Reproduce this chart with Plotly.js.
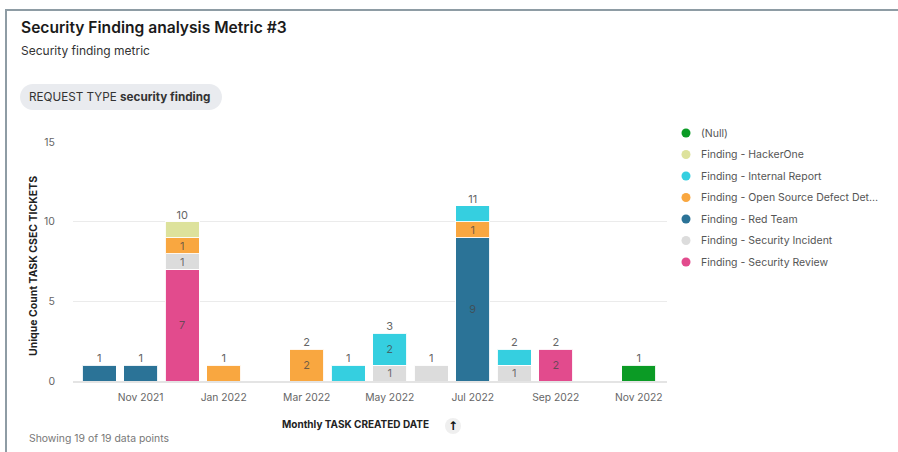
<!DOCTYPE html>
<html>
<head>
<meta charset="utf-8">
<script src="https://cdn.plot.ly/plotly-3.0.1.min.js"></script>
<style>
  html, body { margin: 0; padding: 0; background: #fff; overflow: hidden; }
  #chart { width: 898px; height: 452px; }
</style>
</head>
<body>
<div id="chart"></div>
<script>
// ---- Data ----
const months = ['Oct 2021','Nov 2021','Dec 2021','Jan 2022','Feb 2022','Mar 2022','Apr 2022',
                'May 2022','Jun 2022','Jul 2022','Aug 2022','Sep 2022','Oct 2022','Nov 2022'];
const tickLabels = ['Nov 2021','Jan 2022','Mar 2022','May 2022','Jul 2022','Sep 2022','Nov 2022'];

// stacked bottom -> top
const securityReview   = [null,null,7,null,null,null,null,null,null,null,null,2,null,null];
const securityIncident = [null,null,1,null,null,null,null,1,1,null,1,null,null,null];
const redTeam          = [1,1,null,null,null,null,null,null,null,9,null,null,null,null];
const openSource       = [null,null,1,1,null,2,null,null,null,1,null,null,null,null];
const internalReport   = [null,null,null,null,null,null,1,2,null,1,1,null,null,null];
const hackerOne        = [null,null,1,null,null,null,null,null,null,null,null,null,null,null];
const nullFinding      = [null,null,null,null,null,null,null,null,null,null,null,null,null,1];

const seriesNames = ['Finding - Security Review','Finding - Security Incident','Finding - Red Team',
  'Finding - Open Source Defect Det\u2026','Finding - Internal Report','Finding - HackerOne','(Null)'];
const seriesValues = [securityReview, securityIncident, redTeam, openSource, internalReport, hackerOne, nullFinding];
const seriesColors = ['#e24b8d','#dcdcdc','#2b7397','#f9a740','#35cfe0','#dde29c','#0b9b25'];

// ---- Geometry helpers (pixel -> paper) ----
const W = 898, H = 452;
const M = {l: 73, r: 231, t: 142, b: 71};
const PW = W - M.l - M.r, PH = H - M.t - M.b;
const px = x => (x - M.l) / PW;
const py = y => (H - M.b - y) / PH;

// totals and top-segment detection
const totals = months.map((_, i) => {
  let s = 0, any = false;
  seriesValues.forEach(a => { if (a[i] != null) { s += a[i]; any = true; } });
  return any ? s : null;
});
const topIndex = months.map((_, i) => {
  let t = -1;
  seriesValues.forEach((a, k) => { if (a[i] != null) t = k; });
  return t;
});

const F = 'Inter, "Noto Sans", sans-serif';
const traces = [];
seriesValues.forEach((vals, k) => {
  traces.push({
    type: 'bar', x: months, y: vals, name: seriesNames[k], showlegend: false,
    marker: {color: seriesColors[k], line: {color: 'rgba(255,255,255,0.9)', width: 1}},
    text: vals.map((v, i) => (v == null || (v === 1 && topIndex[i] === k)) ? '' : String(v)),
    textposition: 'inside', insidetextanchor: 'middle', constraintext: 'none', textangle: 0,
    textfont: {family: F, size: 11, color: 'rgba(70,70,70,0.75)'},
    hoverinfo: 'x+y+name', cliponaxis: false
  });
});
traces.push({
  type: 'scatter', mode: 'text', x: months, y: totals, text: totals.map(t => t == null ? '' : String(t)),
  textposition: 'top center', showlegend: false, hoverinfo: 'skip', cliponaxis: false,
  textfont: {family: F, size: 11, color: '#666'}
});

function pill(x0, y0, x1, y1) {
  const r = (y1 - y0) / 2, k = 0.5523 * r, ym = (y0 + y1) / 2;
  const P = (x, y) => px(x).toFixed(5) + ',' + py(y).toFixed(5);
  return 'M' + P(x0 + r, y0) + ' L' + P(x1 - r, y0) +
    ' C' + P(x1 - r + k, y0) + ' ' + P(x1, ym - k) + ' ' + P(x1, ym) +
    ' C' + P(x1, ym + k) + ' ' + P(x1 - r + k, y1) + ' ' + P(x1 - r, y1) +
    ' L' + P(x0 + r, y1) +
    ' C' + P(x0 + r - k, y1) + ' ' + P(x0, ym + k) + ' ' + P(x0, ym) +
    ' C' + P(x0, ym - k) + ' ' + P(x0 + r - k, y0) + ' ' + P(x0 + r, y0) + ' Z';
}

const shapes = [
  {type: 'line', xref: 'paper', yref: 'paper', x0: px(5), x1: px(898), y0: py(10), y1: py(10),
   line: {color: '#8e9ca4', width: 2}},
  {type: 'line', xref: 'paper', yref: 'paper', x0: px(6), x1: px(6), y0: py(9), y1: py(452),
   line: {color: '#8e9ca4', width: 2}},
  {type: 'path', xref: 'paper', yref: 'paper', path: pill(20, 84, 222, 110),
   fillcolor: '#e9ebef', line: {width: 0}},
  {type: 'circle', xref: 'paper', yref: 'paper', x0: px(445), x1: px(461), y0: py(418), y1: py(434),
   fillcolor: '#efefef', line: {width: 0}}
];
const annotations = [
  {xref: 'paper', yref: 'paper', x: px(19), y: py(27), xanchor: 'left', yanchor: 'middle', showarrow: false,
   text: 'Security Finding analysis Metric #3', font: {family: F, size: 15.6, color: '#1a1a1a', weight: 600}},
  {xref: 'paper', yref: 'paper', x: px(19), y: py(50), xanchor: 'left', yanchor: 'middle', showarrow: false,
   text: 'Security finding metric', font: {family: F, size: 12, color: '#333'}},
  {xref: 'paper', yref: 'paper', x: px(27), y: py(97), xanchor: 'left', yanchor: 'middle', showarrow: false,
   text: 'REQUEST TYPE <b>security finding</b>', font: {family: F, size: 11.7, color: '#333'}},
  {xref: 'paper', yref: 'paper', x: px(33), y: py(266), xanchor: 'center', yanchor: 'middle', showarrow: false,
   textangle: -90, text: '<b>Unique Count TASK CSEC TICKETS</b>', font: {family: F, size: 10.5, color: '#222'}},
  {xref: 'paper', yref: 'paper', x: px(355), y: py(424), xanchor: 'center', yanchor: 'middle', showarrow: false,
   text: '<b>Monthly TASK CREATED DATE</b>', font: {family: F, size: 10, color: '#222'}},
  {xref: 'paper', yref: 'paper', x: px(453), y: py(426), xanchor: 'center', yanchor: 'middle', showarrow: false,
   text: '<b>\u2191</b>', font: {family: 'DejaVu Sans, sans-serif', size: 12, color: '#111'}},
  {xref: 'paper', yref: 'paper', x: px(27), y: py(438), xanchor: 'left', yanchor: 'middle', showarrow: false,
   text: 'Showing 19 of 19 data points', font: {family: F, size: 10.4, color: '#777'}}
];

// Legend (top to bottom: reverse of stacking order), drawn as circle + label
const legendOrder = seriesNames.map((_, k) => k).reverse();
legendOrder.forEach((k, row) => {
  const cy = 133 + row * 21.5;
  shapes.push({type: 'circle', xref: 'paper', yref: 'paper',
    x0: px(681.5), x1: px(690.5), y0: py(cy + 4.5), y1: py(cy - 4.5),
    fillcolor: seriesColors[k], line: {width: 0}});
  annotations.push({xref: 'paper', yref: 'paper', x: px(699), y: py(cy), xanchor: 'left', yanchor: 'middle',
    showarrow: false, text: seriesNames[k], font: {family: F, size: 10.5, color: '#555'}});
});

const layout = {
  width: W, height: H,
  margin: M,
  paper_bgcolor: '#fff', plot_bgcolor: '#fff',
  barmode: 'stack', bargap: 0.18,
  showlegend: false,
  font: {family: F, color: '#444'},
  xaxis: {
    type: 'category', categoryorder: 'array', categoryarray: months,
    tickvals: tickLabels, ticktext: tickLabels,
    range: [-0.63, 13.68], showgrid: false, zeroline: false,
    showline: true, linecolor: '#e4e4e4', linewidth: 1.5,
    ticks: '', ticklabelstandoff: 6,
    tickfont: {family: F, size: 10.3, color: '#666'}, fixedrange: true
  },
  yaxis: {
    range: [0, 15], tickvals: [0, 5, 10, 15], showgrid: true, gridcolor: '#ebebeb', gridwidth: 1.5,
    zeroline: false, showline: false, ticks: '', ticklabelstandoff: 17,
    tickfont: {family: F, size: 10.5, color: '#666'}, fixedrange: true
  },
  shapes: shapes,
  annotations: annotations
};

Plotly.newPlot('chart', traces, layout, {displayModeBar: false, staticPlot: true});
</script>
</body>
</html>
